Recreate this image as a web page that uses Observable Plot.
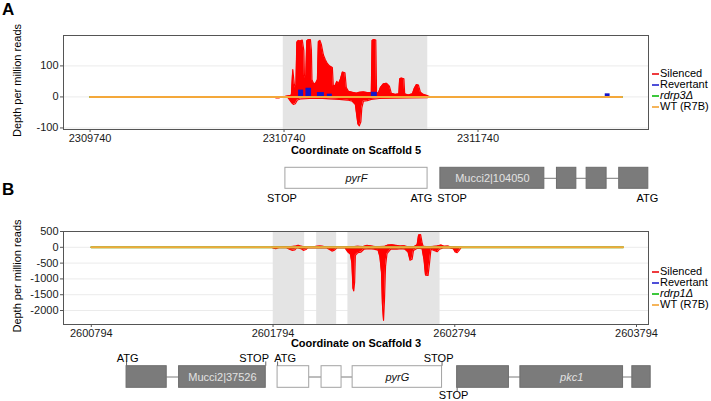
<!DOCTYPE html>
<html><head><meta charset="utf-8">
<script src="https://cdn.jsdelivr.net/npm/d3@7"></script>
<script src="https://cdn.jsdelivr.net/npm/@observablehq/plot@0.6"></script>
<style>
body{margin:0;background:#fff;font-family:"Liberation Sans",Arial,sans-serif;}
#root{position:relative;width:711px;height:401px;overflow:hidden;background:#fff;}
.layer{position:absolute;left:0;}
.layer svg{display:block;}
.tag{position:absolute;left:2px;font-weight:bold;font-size:17px;line-height:17px;color:#000;}
.lg{position:absolute;left:652px;height:11px;line-height:11px;font-size:11px;color:#000;white-space:nowrap;}
.sw{position:absolute;left:0;top:5px;width:7px;height:2px;}
.lt{position:absolute;left:8px;top:0;}
</style></head>
<body><div id="root"></div>
<script>
// ---------- Panel A data ----------
const xTicksA = [2309740, 2310740, 2311740];
const yTicksA = [-100, 0, 100];
const xDomainA = [2309603, 2312619];
const yDomainA = [-105, 198];
const shadedA = [[2310736, 2311481]];
const wtA = [[2309740, 0], [2312482, 0]];
const rdrpA = [[2309740, 0], [2312482, 0]];
const silencedPlusA = [
 [2310736,0],[2310757,3],[2310773,5],[2310778,6],[2310785,88],[2310793,40],[2310801,25],
 [2310806,176],[2310814,182],[2310824,180],[2310834,183],[2310842,150],[2310845,70],[2310852,58],
 [2310857,180],[2310865,184],[2310876,185],[2310881,150],[2310884,55],[2310891,45],[2310901,42],
 [2310912,55],[2310917,178],[2310925,182],[2310932,170],[2310943,135],[2310953,120],[2310963,108],
 [2310974,100],[2310989,95],[2310994,35],[2311005,38],[2311012,50],[2311020,42],[2311030,55],
 [2311041,80],[2311054,78],[2311061,30],[2311072,18],[2311092,15],[2311113,12],[2311128,15],
 [2311149,16],[2311169,14],[2311190,14],[2311194,182],[2311203,185],[2311213,183],[2311217,15],
 [2311226,12],[2311237,30],[2311252,42],[2311268,44],[2311283,35],[2311293,12],[2311314,8],
 [2311332,10],[2311336,58],[2311345,61],[2311358,58],[2311362,10],[2311381,6],[2311402,10],
 [2311412,28],[2311423,40],[2311433,38],[2311443,15],[2311458,8],[2311479,4],[2311494,0]
];
const silencedMinusA = [
 [2310695,0],[2310698,-3],[2310716,-3],[2310718,0],[2310757,0],[2310767,-8],[2310778,-18],
 [2310788,-24],[2310798,-22],[2310809,-10],[2310829,-6],[2310870,-5],[2310922,-4],[2310974,-6],
 [2311025,-8],[2311066,-10],[2311092,-14],[2311108,-25],[2311115,-60],[2311121,-88],[2311128,-93],
 [2311136,-80],[2311141,-35],[2311149,-14],[2311169,-12],[2311190,-8],[2311231,-5],[2311309,-4],
 [2311386,-3],[2311479,-2],[2311494,0]
];
const revertantA = [
 [2310815,2310841,22],[2310853,2310882,28],[2310912,2310948,14],[2310963,2310989,9],
 [2311190,2311221,15],[2312396,2312421,10]
];
// gene model A
const whiteExonsA = [[2310747, 2311480]];
const grayExonsA = [[2311546, 2312082],[2312147, 2312247],[2312300, 2312403],[2312468, 2312618]];
const intronsA = [[2312082, 2312147],[2312247, 2312300],[2312403, 2312468]];
const geneNamesA = [[2310747, 2311480, "pyrF"]];
const modelNamesA = [[2311546, 2312082, "Mucci2|104050"]];
const sitesA = [[2310729, "STOP", -1.88],[2311448, "ATG", -1.88],[2311606, "STOP", -1.88],[2312613, "ATG", -1.88]];

// ---------- Panel B data ----------
const xTicksB = [2600794, 2601794, 2602794, 2603794];
const yTicksB = [-2000, -1500, -1000, -500, 0, 500];
const xDomainB = [2600641, 2603860];
const yDomainB = [-2442, 500];
const shadedB = [[2601795, 2601968],[2602034, 2602144],[2602206, 2602713]];
const wtB = [[2600794, 0], [2603720, 0]];
const rdrpB = [[2600794, 0], [2603720, 0]];
const silencedMinusB = [
 [2601787,0],[2601796,-30],[2601809,-40],[2601826,-10],[2601865,-5],[2601884,-60],[2601898,-95],
 [2601914,-80],[2601925,-10],[2601947,-40],[2601961,-95],[2601975,-70],[2601986,-10],[2602030,-15],
 [2602090,-20],[2602107,-80],[2602118,-120],[2602132,-90],[2602146,-15],[2602190,-20],[2602206,-150],
 [2602220,-220],[2602228,-500],[2602234,-1300],[2602238,-1380],[2602243,-1100],[2602247,-250],
 [2602261,-170],[2602278,-150],[2602294,-60],[2602322,-40],[2602350,-60],[2602372,-90],[2602382,-300],
 [2602391,-800],[2602396,-1800],[2602402,-2310],[2602407,-1700],[2602413,-600],[2602421,-200],
 [2602443,-50],[2602476,-60],[2602498,-40],[2602520,-60],[2602537,-150],[2602548,-410],[2602559,-380],
 [2602567,-100],[2602587,-30],[2602614,-40],[2602625,-400],[2602633,-880],[2602647,-890],[2602655,-500],
 [2602663,-60],[2602680,-100],[2602697,-140],[2602710,-60],[2602730,-20],[2602757,-10],[2602785,-40],
 [2602796,-150],[2602807,-170],[2602818,-100],[2602829,0]
];
const silencedPlusB = [
 [2601787,0],[2601837,10],[2601892,20],[2601922,40],[2601933,63],[2601944,40],[2601975,10],
 [2602013,15],[2602035,30],[2602052,42],[2602068,30],[2602090,10],[2602168,10],[2602223,15],
 [2602261,30],[2602289,20],[2602311,60],[2602328,50],[2602355,20],[2602410,30],[2602427,70],
 [2602449,80],[2602471,60],[2602493,40],[2602515,50],[2602531,20],[2602570,20],[2602587,80],
 [2602595,390],[2602606,400],[2602614,150],[2602620,30],[2602663,20],[2602697,40],[2602719,70],
 [2602735,30],[2602757,40],[2602774,10],[2602829,0]
];
// gene model B
const whiteExonsB = [[2601819, 2601993],[2602061, 2602171],[2602232, 2602724]];
const grayExonsB = [[2600988, 2601209],[2601277, 2601754],[2602807, 2603092],[2603155, 2603720],[2603771, 2603872]];
const intronsB = [[2601209, 2601277],[2601993, 2602061],[2602171, 2602232],[2603092, 2603155],[2603720, 2603771]];
const geneNamesB = [[2602232, 2602724, "pyrG"]];
const lightGeneNamesB = [[2603155, 2603720, "pkc1"]];
const modelNamesB = [[2601277, 2601754, "Mucci2|37526"]];
const sitesB = [[2600994, "ATG", 1.71],[2601690, "STOP", 1.71],[2601860, "ATG", 1.71],[2602705, "STOP", 1.71],[2602787, "STOP", -1.71]];
const siteTicksB = [[2600988, 1, 1.4],[2601754, 1, 1.4],[2601819, 1, 1.4],[2602724, 1, 1.4],[2602807, -1, -1.4]];

// ---------- legend ----------
const legendLabelsA = ["Silenced", "Revertant", "rdrp3Δ", "WT (R7B)"];
const legendLabelsB = ["Silenced", "Revertant", "rdrp1Δ", "WT (R7B)"];

const RED = "#ff0000", BLUE = "#1515c8", GREEN = "#2bbf2b", ORANGE = "#f4a83a";
const legendColors = ["#ee3b3f", "#4f4fd8", "#3cc83c", "#f5b55a"];
const FONT = "'Liberation Sans', Arial, sans-serif";

function panel(o) {
  return Plot.plot({
    width: 711, height: o.height,
    marginLeft: 63, marginRight: 63, marginTop: o.mt, marginBottom: o.mb,
    style: {background: "transparent", fontFamily: FONT, fontSize: "11px", color: "#1a1a1a", overflow: "visible"},
    x: {domain: o.xDomain},
    y: {domain: o.yDomain},
    marks: [
      Plot.gridY(o.yTicks, {stroke: "#ebebeb", strokeOpacity: 1}),
      Plot.rect(o.shaded, {x1: d => d[0], x2: d => d[1], fill: "#e4e4e4"}),
      Plot.areaY(o.plus, {x: d => d[0], y: d => d[1], fill: RED}),
      Plot.lineY(o.plus, {x: d => d[0], y: d => d[1], stroke: RED, strokeWidth: 1.2}),
      Plot.areaY(o.minus, {x: d => d[0], y: d => d[1], fill: RED}),
      Plot.lineY(o.minus, {x: d => d[0], y: d => d[1], stroke: RED, strokeWidth: 1.2}),
      o.rev ? Plot.rect(o.rev, {x1: d => d[0], x2: d => d[1], y1: 0, y2: d => d[2], fill: BLUE}) : null,
      Plot.lineY(o.rdrp, {x: d => d[0], y: d => d[1], stroke: GREEN, strokeWidth: 2}),
      Plot.lineY(o.wt, {x: d => d[0], y: d => d[1], stroke: ORANGE, strokeWidth: 2}),
      Plot.frame({stroke: "#555"}),
      Plot.axisX(o.xTicks, {tickSize: 3, tickPadding: 2, tickFormat: d => String(d), label: null, stroke: "#555", fill: "#1a1a1a"}),
      Plot.axisY(o.yTicks, {tickSize: 3, tickPadding: 2, tickFormat: d => String(d), label: null, stroke: "#555", fill: "#1a1a1a"}),
      Plot.text([o.xLabel], {frameAnchor: "bottom", dy: o.xLabelDy, text: d => d, fontWeight: "bold", fontSize: 11, fill: "#000"}),
      Plot.text(["Depth per million reads"], {frameAnchor: "left", textAnchor: "middle", lineAnchor: "middle", dx: -46, dy: -2, rotate: -90, text: d => d, fontSize: 11, fill: "#000"})
    ].filter(Boolean)
  });
}

function genes(o) {
  const mid = d => (d[0] + d[1]) / 2;
  return Plot.plot({
    width: 711, height: o.height,
    marginLeft: 63, marginRight: 63, marginTop: 0, marginBottom: 0,
    style: {background: "transparent", fontFamily: FONT, fontSize: "11px", overflow: "visible"},
    x: {domain: o.xDomain, axis: null},
    y: {domain: o.yDomain, axis: null},
    marks: [
      Plot.ruleY(o.introns, {x1: d => d[0], x2: d => d[1], y: 0, stroke: "#7a7a7a"}),
      Plot.rect(o.gray, {x1: d => d[0], x2: d => d[1], y1: -1, y2: 1, fill: "#7b7b7b", stroke: "#6d6d6d"}),
      Plot.rect(o.white, {x1: d => d[0], x2: d => d[1], y1: -1, y2: 1, fill: "#ffffff", stroke: "#a3a3a3"}),
      o.ticks ? Plot.ruleX(o.ticks, {x: d => d[0], y1: d => d[1], y2: d => d[2], stroke: "#666"}) : null,
      Plot.text(o.geneNames, {x: mid, y: 0, text: d => d[2], fontStyle: "italic", fill: "#111", fontSize: 11}),
      o.lightGeneNames ? Plot.text(o.lightGeneNames, {x: mid, y: 0, text: d => d[2], fontStyle: "italic", fill: "#e2e2e2", fontSize: 11}) : null,
      Plot.text(o.modelNames, {x: mid, y: 0, text: d => d[2], fill: "#e2e2e2", fontSize: 11}),
      Plot.text(o.sites, {x: d => d[0], y: d => d[2], text: d => d[1], fill: "#000", fontSize: 11})
    ].filter(Boolean)
  });
}

const root = document.getElementById("root");
function place(node, top) {
  const div = document.createElement("div");
  div.className = "layer";
  div.style.top = top + "px";
  div.appendChild(node);
  root.appendChild(div);
}

place(panel({height: 160, mt: 35, mb: 31, xDomain: xDomainA, yDomain: yDomainA, xTicks: xTicksA, yTicks: yTicksA,
  shaded: shadedA, plus: silencedPlusA, minus: silencedMinusA, rev: revertantA, wt: wtA, rdrp: rdrpA,
  xLabel: "Coordinate on Scaffold 5", xLabelDy: 24}), 0);
place(genes({height: 45, xDomain: xDomainA, yDomain: [-2.59, 1.695], white: whiteExonsA, gray: grayExonsA,
  introns: intronsA, geneNames: geneNamesA, modelNames: modelNamesA, sites: sitesA}), 160);
place(panel({height: 160, mt: 31, mb: 36, xDomain: xDomainB, yDomain: yDomainB, xTicks: xTicksB, yTicks: yTicksB,
  shaded: shadedB, plus: silencedPlusB, minus: silencedMinusB, rev: null, wt: wtB, rdrp: rdrpB,
  xLabel: "Coordinate on Scaffold 3", xLabelDy: 22.5}), 200);
place(genes({height: 51, xDomain: xDomainB, yDomain: [-2.268, 2.454], white: whiteExonsB, gray: grayExonsB,
  introns: intronsB, geneNames: geneNamesB, lightGeneNames: lightGeneNamesB, modelNames: modelNamesB,
  sites: sitesB, ticks: siteTicksB}), 350);

function tag(t, top) {
  const d = document.createElement("div");
  d.className = "tag"; d.style.top = top + "px"; d.textContent = t;
  root.appendChild(d);
}
tag("A", 1); tag("B", 181);

function legend(labels, firstCenter, step) {
  labels.forEach((lab, i) => {
    const row = document.createElement("div");
    row.className = "lg";
    row.style.top = Math.round(firstCenter + i * step - 5.5) + "px";
    const sw = document.createElement("span");
    sw.className = "sw"; sw.style.background = legendColors[i];
    row.appendChild(sw);
    const t = document.createElement("span");
    t.className = "lt";
    t.textContent = lab;
    if (i === 2) t.style.fontStyle = "italic";
    row.appendChild(t);
    root.appendChild(row);
  });
}
legend(legendLabelsA, 73.5, 11);
legend(legendLabelsB, 271, 11);
</script>
</body></html>
